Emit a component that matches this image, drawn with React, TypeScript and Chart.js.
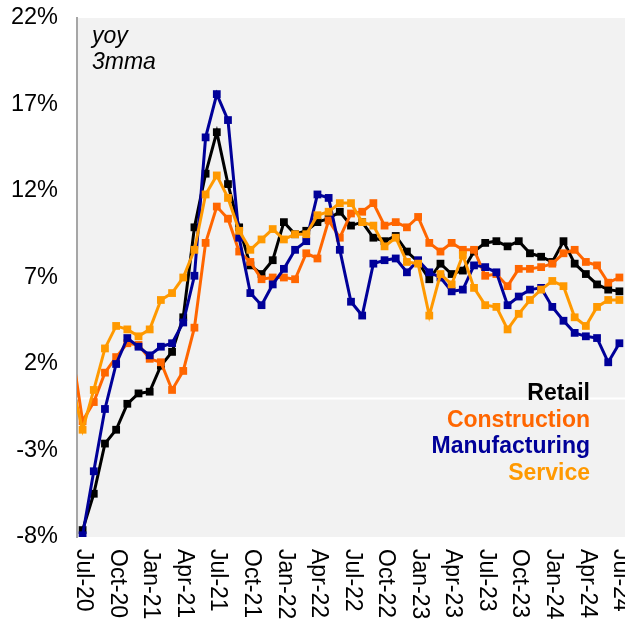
import { useEffect, useRef } from "react";
import { Chart, registerables } from "chart.js";

Chart.register(...registerables);

// Monthly categories (Jun-20 is only the lead-in point, clipped off the left edge)
const categories = [
  "Jun-20", "Jul-20", "Aug-20", "Sep-20", "Oct-20", "Nov-20", "Dec-20",
  "Jan-21", "Feb-21", "Mar-21", "Apr-21", "May-21", "Jun-21", "Jul-21", "Aug-21", "Sep-21", "Oct-21", "Nov-21", "Dec-21",
  "Jan-22", "Feb-22", "Mar-22", "Apr-22", "May-22", "Jun-22", "Jul-22", "Aug-22", "Sep-22", "Oct-22", "Nov-22", "Dec-22",
  "Jan-23", "Feb-23", "Mar-23", "Apr-23", "May-23", "Jun-23", "Jul-23", "Aug-23", "Sep-23", "Oct-23", "Nov-23", "Dec-23",
  "Jan-24", "Feb-24", "Mar-24", "Apr-24", "May-24", "Jun-24", "Jul-24",
];

const tickLabels = [
  "Jul-20", "Oct-20", "Jan-21", "Apr-21", "Jul-21", "Oct-21", "Jan-22", "Apr-22", "Jul-22",
  "Oct-22", "Jan-23", "Apr-23", "Jul-23", "Oct-23", "Jan-24", "Apr-24", "Jul-24",
];

const retail = [
  -10, -7.6, -5.5, -2.6, -1.8, -0.3, 0.3, 0.4, 1.9, 2.7, 4.7, 9.9, 13.0, 15.4, 12.4, 9.9, 7.7, 7.2, 8.0,
  10.2, 9.5, 9.7, 10.2, 10.4, 10.8, 10.0, 10.2, 9.3, 9.1, 9.4, 8.5,
  7.9, 6.9, 7.8, 7.2, 7.4, 8.5, 9.0, 9.1, 8.8, 9.1, 8.4, 8.2,
  7.9, 9.1, 7.8, 7.2, 6.6, 6.3, 6.2,
];

const construction = [
  3.0, -1.3, -0.2, 1.5, 2.4, 3.2, 3.1, 2.3, 2.1, 0.5, 1.6, 4.1, 9.0, 11.1, 10.4, 8.5, 7.9, 6.9, 7.0,
  7.0, 6.9, 8.4, 8.1, 10.3, 9.3, 10.7, 10.8, 11.3, 10.0, 10.2, 9.9,
  10.5, 9.0, 8.5, 9.0, 8.6, 8.6, 7.1, 7.2, 6.5, 7.5, 7.5, 7.6,
  7.8, 8.4, 8.6, 7.9, 7.7, 6.7, 7.0,
];

const manufacturing = [
  -10, -7.9, -4.2, -0.6, 2.0, 3.5, 3.0, 2.5, 3.0, 3.2, 4.4, 7.1, 15.1, 17.6, 16.1, 9.3, 6.1, 5.4, 6.6,
  7.5, 8.6, 9.1, 11.8, 11.6, 8.6, 5.6, 4.8, 7.8, 8.0, 8.1, 7.3,
  8.0, 7.3, 7.0, 6.2, 6.3, 7.7, 7.6, 7.3, 5.4, 5.9, 6.3, 6.4,
  5.3, 4.5, 3.8, 3.6, 3.5, 2.1, 3.2,
];

const service = [
  1.0, -1.8, 0.5, 2.9, 4.2, 4.0, 3.6, 4.0, 5.7, 6.1, 7.0, 8.6, 11.8, 12.9, 11.6, 9.7, 8.6, 9.2, 9.8,
  9.2, 9.5, 9.5, 10.6, 10.8, 11.3, 11.3, 10.2, 10.0, 8.8, 9.3, 7.9,
  7.8, 4.8, 7.2, 6.6, 8.3, 6.4, 5.4, 5.3, 4.0, 4.9, 5.7, 6.3,
  6.8, 6.5, 4.7, 4.2, 5.3, 5.7, 5.7,
];

const seriesNames = ["Retail", "Construction", "Manufacturing", "Service"];
const seriesColors = ["#000000", "#FF6600", "#000099", "#FF9900"];
const seriesData = [retail, construction, manufacturing, service];

const noteLines = ["yoy", "3mma"];

const FONT = "'Liberation Sans', Arial, Helvetica, sans-serif";

const overlayPlugin = {
  id: "overlay",
  beforeDraw(chart: any) {
    const { ctx, chartArea } = chart;
    ctx.save();
    ctx.fillStyle = "#F2F2F2";
    ctx.fillRect(chartArea.left, chartArea.top, chartArea.right - chartArea.left, chartArea.bottom - chartArea.top);
    ctx.restore();
  },
  beforeDatasetsDraw(chart: any) {
    const { ctx, chartArea } = chart;
    const y0 = chart.scales.y.getPixelForValue(0);
    ctx.save();
    ctx.strokeStyle = "#FFFFFF";
    ctx.lineWidth = 2;
    ctx.beginPath();
    ctx.moveTo(chartArea.left, y0);
    ctx.lineTo(chartArea.right, y0);
    ctx.stroke();
    ctx.restore();
  },
  afterDraw(chart: any) {
    const { ctx, chartArea } = chart;
    const xs = chart.scales.x;
    ctx.save();
    // rotated x tick labels (reading top to bottom)
    ctx.font = `23px ${FONT}`;
    ctx.fillStyle = "#000000";
    ctx.textAlign = "left";
    ctx.textBaseline = "middle";
    for (const lab of tickLabels) {
      const px = xs.getPixelForValue(categories.indexOf(lab));
      ctx.save();
      ctx.translate(px + 1, chartArea.bottom + 12);
      ctx.rotate(Math.PI / 2);
      ctx.fillText(lab, 0, 0);
      ctx.restore();
    }
    // legend text
    ctx.font = `bold 23px ${FONT}`;
    ctx.textAlign = "right";
    seriesNames.forEach((name, k) => {
      ctx.fillStyle = seriesColors[k];
      ctx.fillText(name, 590, 394 + k * 26.5);
    });
    // note
    ctx.font = `italic 23px ${FONT}`;
    ctx.textAlign = "left";
    ctx.fillStyle = "#000000";
    noteLines.forEach((t, k) => ctx.fillText(t, 92, 37 + k * 26));
    ctx.restore();
  },
};

export default function App() {
  const ref = useRef<HTMLCanvasElement | null>(null);

  useEffect(() => {
    if (!ref.current) return;
    const chart = new Chart(ref.current, {
      type: "line",
      data: {
        labels: categories,
        datasets: seriesData.map((d, k) => ({
          label: seriesNames[k],
          data: d,
          borderColor: seriesColors[k],
          backgroundColor: seriesColors[k],
          pointBackgroundColor: seriesColors[k],
          pointBorderColor: seriesColors[k],
          pointBorderWidth: 0,
          pointStyle: "rect",
          pointRadius: 5.5,
          borderWidth: 3,
          tension: 0,
          clip: 0,
          order: 4 - k,
        })),
      },
      options: {
        animation: false,
        responsive: false,
        events: [],
        layout: { autoPadding: false, padding: { top: 18, left: 0, right: 0, bottom: 0 } },
        plugins: {
          legend: { display: false },
          tooltip: { enabled: false },
        },
        scales: {
          x: {
            type: "category",
            min: "Jul-20",
            max: "Jul-24",
            offset: true,
            grid: { display: false },
            border: { display: false },
            ticks: { display: false },
            afterFit: (s: any) => {
              s.height = 87;
              s.paddingLeft = 0;
              s.paddingRight = 0;
            },
          },
          y: {
            min: -8,
            max: 22,
            grid: { display: false, drawTicks: false },
            border: { display: true, color: "#A6A6A6", width: 2 },
            ticks: {
              stepSize: 5,
              padding: 19,
              color: "#000000",
              font: { family: FONT, size: 23.5 },
              callback: (v: any) => `${v}%`,
            },
            afterFit: (s: any) => {
              s.width = 77;
              s.paddingTop = 0;
              s.paddingBottom = 0;
            },
          },
        },
      },
      plugins: [overlayPlugin],
    });
    return () => chart.destroy();
  }, []);

  return (
    <div style={{ position: "absolute", left: 0, top: 0, width: 625, height: 624, background: "#FFFFFF" }}>
      <canvas ref={ref} width={625} height={624} style={{ display: "block" }} />
    </div>
  );
}
